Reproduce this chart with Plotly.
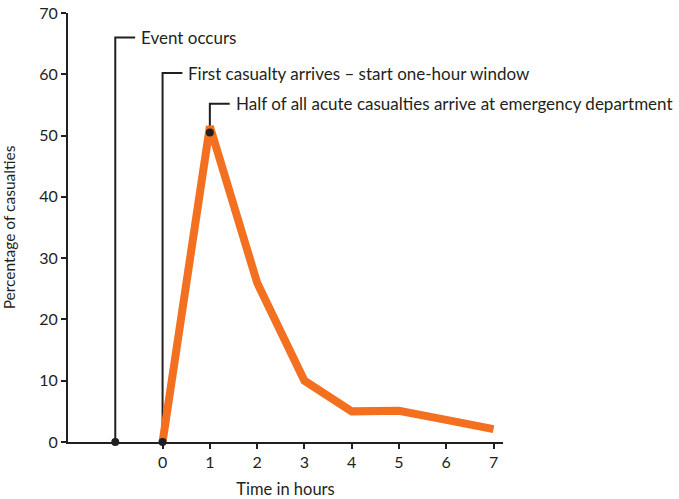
import plotly.graph_objects as go

hours = [0, 1, 2, 3, 4, 5, 6, 7]
casualties = [0, 51.5, 26, 10, 5, 5.1, 3.6, 2.1]

event_labels = ["Event occurs",
                "First casualty arrives \u2013 start one-hour window",
                "Half of all acute casualties arrive at emergency department"]
event_x = [-1, 0, 1]
event_base = [0, 0, 50.5]
event_top = [66, 60.2, 55.2]
elbow_len = 0.42

x_ticks = [0, 1, 2, 3, 4, 5, 6, 7]
y_ticks = [0, 10, 20, 30, 40, 50, 60, 70]

dark = "#231f20"
orange = "#f37021"
font_family = "Lato, 'Open Sans', sans-serif"

fig = go.Figure()

for ex, eb, et in zip(event_x, event_base, event_top):
    fig.add_trace(go.Scatter(
        x=[ex, ex, ex + elbow_len], y=[eb, et, et],
        mode="lines", line=dict(color=dark, width=2),
        hoverinfo="skip", showlegend=False, cliponaxis=False))

fig.add_trace(go.Scatter(
    x=hours, y=casualties, mode="lines",
    line=dict(color=orange, width=8),
    showlegend=False, cliponaxis=False))

fig.add_trace(go.Scatter(
    x=event_x, y=event_base, mode="markers",
    marker=dict(color=dark, size=8),
    showlegend=False, cliponaxis=False))

for lab, ex, et in zip(event_labels, event_x, event_top):
    fig.add_annotation(x=ex + elbow_len, y=et, text=lab, showarrow=False,
                       xanchor="left", yanchor="middle", xshift=4,
                       font=dict(size=17, color=dark, family=font_family))

fig.update_layout(
    width=679, height=499,
    margin=dict(l=68, r=176, t=13, b=57, autoexpand=False),
    paper_bgcolor="white", plot_bgcolor="white",
    font=dict(family=font_family, color=dark, size=16),
    xaxis=dict(range=[-2, 7.2], tickvals=x_ticks, showgrid=False, zeroline=False,
               showline=True, linecolor=dark, linewidth=2, automargin=False,
               ticks="outside", ticklen=5, tickwidth=2, tickcolor=dark,
               tickfont=dict(size=16), ticklabeloverflow="allow",
               title=dict(text="Time in hours", font=dict(size=16.5), standoff=13)),
    yaxis=dict(range=[0, 70], tickvals=y_ticks, showgrid=False, zeroline=False,
               showline=True, linecolor=dark, linewidth=2, automargin=False,
               ticks="outside", ticklen=5, tickwidth=2, tickcolor=dark,
               tickfont=dict(size=16), ticklabeloverflow="allow",
               title=dict(text="Percentage of casualties", font=dict(size=15.5), standoff=27)),
)

fig.write_html("out.html", config={"displayModeBar": False},
               post_script="document.body.style.margin='0';document.body.style.overflow='hidden';")
